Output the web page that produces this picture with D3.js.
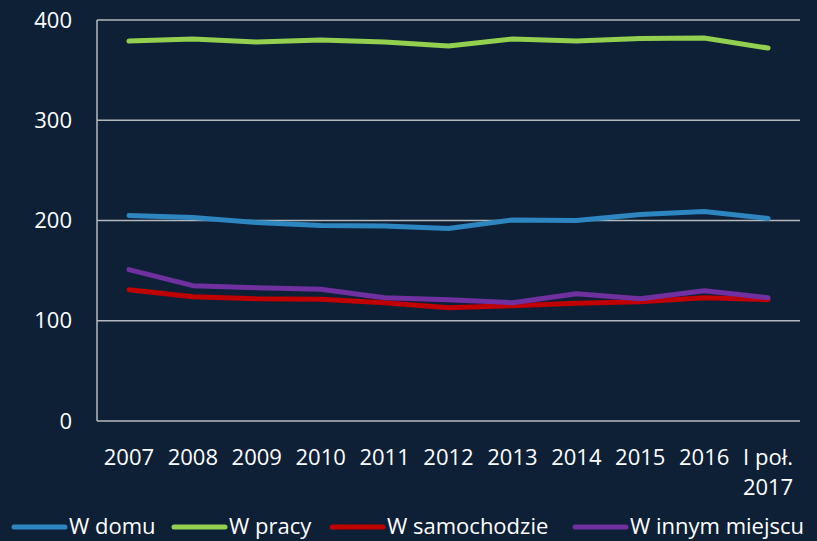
<!DOCTYPE html>
<meta charset="utf-8">
<script src="https://d3js.org/d3.v7.min.js"></script>
<style>
  body { margin: 0; background: #0e2035; }
  text { font-family: "Open Sans", sans-serif; fill: #ffffff; }
</style>
<div id="my_dataviz"></div>
<script>
    // data
    var categories = ["2007", "2008", "2009", "2010", "2011", "2012", "2013", "2014", "2015", "2016", "I poł.|2017"];
    var wDomu = [205, 203, 198, 195, 194.5, 192, 200.5, 200, 206, 209, 202];
    var wPracy = [379, 381, 378, 380, 378, 374, 381, 379, 381.5, 382, 372];
    var wSamochodzie = [131, 124, 122, 121.5, 118, 113, 115, 117.5, 119, 123, 121];
    var wInnym = [151, 135, 133, 131.5, 123, 121, 118, 127, 122, 130, 123];
    var seriesNames = ["W domu", "W pracy", "W samochodzie", "W innym miejscu"];
    var yTicks = [0, 100, 200, 300, 400];

    var series = [wDomu, wPracy, wSamochodzie, wInnym];
    var colors = ["#2e86c1", "#92d050", "#c00000", "#7030a0"];

    var margin = {top: 20, right: 17, bottom: 120, left: 97},
        width = 817 - margin.left - margin.right,
        height = 541 - margin.top - margin.bottom;

    var svg = d3.select("#my_dataviz")
      .append("svg")
        .attr("width", 817)
        .attr("height", 541);

    svg.append("rect")
        .attr("width", 817).attr("height", 541)
        .attr("fill", "#0e2035");

    var g = svg.append("g")
        .attr("transform", "translate(" + margin.left + "," + margin.top + ")");

    var x = d3.scaleBand()
        .domain(categories)
        .range([0, width]);

    var y = d3.scaleLinear()
        .domain([0, 400])
        .range([height, 0]);

    // gridlines
    g.selectAll(".grid")
      .data(yTicks)
      .enter().append("line")
        .attr("x1", 0).attr("x2", width)
        .attr("y1", d => y(d)).attr("y2", d => y(d))
        .attr("stroke", "#b4b8bc")
        .attr("stroke-width", 1.5);

    // left axis line
    g.append("line")
        .attr("x1", 0).attr("x2", 0)
        .attr("y1", 0).attr("y2", height)
        .attr("stroke", "#b4b8bc")
        .attr("stroke-width", 1.5);

    // y tick labels
    g.selectAll(".ylab")
      .data(yTicks)
      .enter().append("text")
        .attr("x", -25)
        .attr("y", d => y(d))
        .attr("dy", "0.35em")
        .attr("text-anchor", "end")
        .style("font-size", "22px")
        .text(d => d);

    // x tick labels, the last one on two lines
    categories.forEach(function(c) {
        var cx = x(c) + x.bandwidth() / 2;
        c.split("|").forEach(function(part, i) {
            g.append("text")
                .attr("x", cx)
                .attr("y", height + 44 + i * 30)
                .attr("text-anchor", "middle")
                .style("font-size", "22px")
                .text(part);
        });
    });

    // lines
    var line = d3.line()
        .x((d, i) => x(categories[i]) + x.bandwidth() / 2)
        .y(d => y(d));

    g.selectAll(".series")
      .data(series)
      .enter().append("path")
        .attr("d", d => line(d))
        .attr("fill", "none")
        .attr("stroke", (d, i) => colors[i])
        .attr("stroke-width", 5)
        .attr("stroke-linecap", "round")
        .attr("stroke-linejoin", "round");

    // legend
    var legendX = [12, 172, 330, 573];
    var legendY = 526;
    var legend = svg.append("g");
    legend.selectAll("line")
      .data(seriesNames)
      .enter().append("line")
        .attr("x1", (d, i) => legendX[i] + 2)
        .attr("x2", (d, i) => legendX[i] + 53)
        .attr("y1", legendY + 1).attr("y2", legendY + 1)
        .attr("stroke", (d, i) => colors[i])
        .attr("stroke-width", 5)
        .attr("stroke-linecap", "round");
    legend.selectAll("text")
      .data(seriesNames)
      .enter().append("text")
        .attr("x", (d, i) => legendX[i] + 57)
        .attr("y", legendY)
        .attr("dy", "0.35em")
        .style("font-size", "22px")
        .text(d => d);
</script>
